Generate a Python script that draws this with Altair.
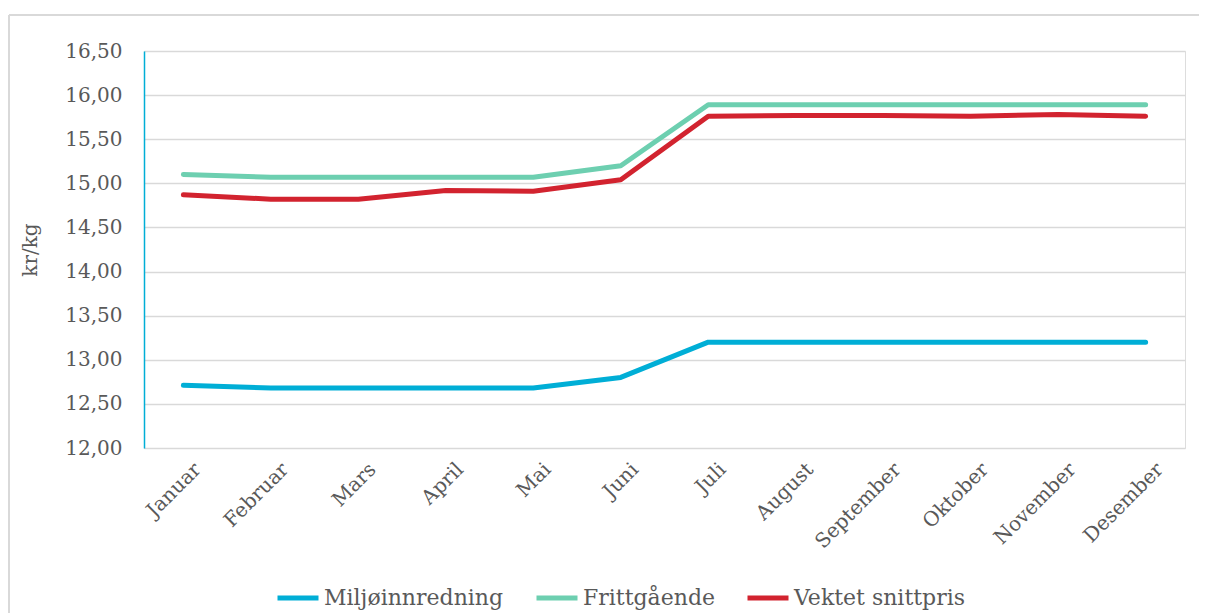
import altair as alt
import pandas as pd

months = ["Januar", "Februar", "Mars", "April", "Mai", "Juni", "Juli",
          "August", "September", "Oktober", "November", "Desember"]
series = ["Miljøinnredning", "Frittgående", "Vektet snittpris"]
miljo = [12.71, 12.68, 12.68, 12.68, 12.68, 12.80, 13.20, 13.20, 13.20, 13.20, 13.20, 13.20]
fritt = [15.10, 15.07, 15.07, 15.07, 15.07, 15.20, 15.89, 15.89, 15.89, 15.89, 15.89, 15.89]
vektet = [14.87, 14.82, 14.82, 14.92, 14.91, 15.04, 15.76, 15.77, 15.77, 15.76, 15.78, 15.76]
colors = ["#00AED6", "#6DCFB0", "#D2232F"]

rows = []
for name, vals in zip(series, [miljo, fritt, vektet]):
    for m, v in zip(months, vals):
        rows.append({"Måned": m, "Serie": name, "kr/kg": v})
df = pd.DataFrame(rows)

FONT = "DejaVu Serif"
GREY = "#595959"

lines = alt.Chart(df).mark_line(strokeWidth=5, strokeCap="round", strokeJoin="round").encode(
    x=alt.X("Måned:N", sort=months,
            scale=alt.Scale(type="point", padding=0.45),
            axis=alt.Axis(title=None, labelAngle=-45, labelAlign="right", labelBaseline="middle",
                          labelFont=FONT, labelFontSize=20, labelColor=GREY, labelPadding=18,
                          labelOffset=14,
                          ticks=False, domain=False, grid=False)),
    y=alt.Y("kr/kg:Q",
            scale=alt.Scale(domain=[12, 16.5], nice=False, zero=False),
            axis=alt.Axis(title="kr/kg", values=[12, 12.5, 13, 13.5, 14, 14.5, 15, 15.5, 16, 16.5],
                          labelExpr="replace(format(datum.value, '.2f'), '.', ',')",
                          labelFont=FONT, labelFontSize=20, labelColor=GREY, labelPadding=22,
                          titleFont=FONT, titleFontSize=20, titleColor=GREY, titleFontWeight="normal",
                          titlePadding=24,
                          ticks=False, domain=True, domainColor="#00AED6", domainWidth=1.5,
                          grid=True, gridColor="#D9D9D9", gridWidth=1.5)),
    color=alt.Color("Serie:N", sort=series,
                    scale=alt.Scale(domain=series, range=colors),
                    legend=alt.Legend(title=None, orient="none", direction="horizontal",
                                      legendX=131, legendY=524,
                                      symbolType="stroke", symbolSize=1681, symbolStrokeWidth=5,
                                      labelFont=FONT, labelFontSize=22, labelColor=GREY,
                                      labelOffset=3, columnPadding=22, labelLimit=300)),
)

frame_left = alt.Chart(df).mark_rule(color="#D9D9D9", strokeWidth=2).encode(
    x=alt.value(-135), y=alt.value(-36), y2=alt.value(570))
frame_top = alt.Chart(df).mark_rule(color="#D9D9D9", strokeWidth=2).encode(
    x=alt.value(-135), x2=alt.value(1060), y=alt.value(-36))

chart = alt.layer(frame_left, frame_top, lines).properties(
    width=1041, height=397,
    autosize=alt.AutoSizeParams(type="none"),
    padding={"left": 136, "top": 43, "right": 14, "bottom": 165},
).configure_view(stroke=None).configure(background="white")

chart.save("out.html", embed_options={"renderer": "svg", "actions": False})
